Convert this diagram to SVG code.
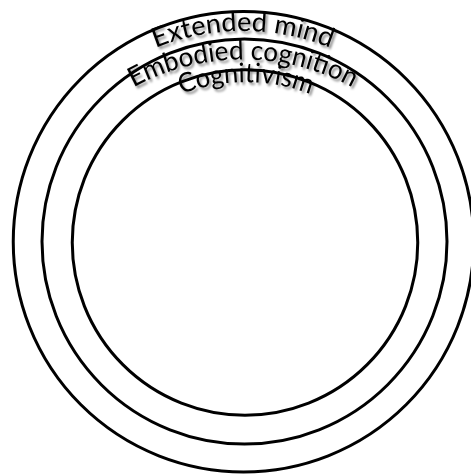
<svg xmlns="http://www.w3.org/2000/svg" xmlns:xlink="http://www.w3.org/1999/xlink" width="471" height="475" viewBox="0 0 471 475">
<style>
.ring{fill:none;stroke:#000;stroke-width:3}
.lbl{font-family:Lato,"Open Sans","Liberation Sans",sans-serif;font-size:27px;fill:#000;filter:url(#sh)}
</style>
<defs>
<filter id="sh" x="-20%" y="-50%" width="140%" height="200%">
<feDropShadow dx="2" dy="2.5" stdDeviation="1.3" flood-color="#000" flood-opacity="0.45"/>
</filter>
<path id="p1" d="M8,266 A235,235 0 0 1 478,266"/>
<path id="p2" d="M15,287.5 A228,228 0 0 1 471,287.5"/>
<path id="p3" d="M68,260 A178,178 0 0 1 424,260"/>
</defs>
<rect width="471" height="475" fill="#fff"/>
<g id="extended-mind">
<circle class="ring" cx="243.5" cy="241.75" r="230.25"/>
<text class="lbl"><textPath xlink:href="#p1" href="#p1" startOffset="50%" text-anchor="middle" textLength="179" lengthAdjust="spacingAndGlyphs">Extended mind</textPath></text>
</g>
<g id="embodied-cognition">
<circle class="ring" cx="244.5" cy="241.5" r="202.5"/>
<text class="lbl"><textPath xlink:href="#p2" href="#p2" startOffset="50%" text-anchor="middle" textLength="228" lengthAdjust="spacingAndGlyphs">Embodied cognition</textPath></text>
</g>
<g id="cognitivism">
<circle class="ring" cx="245" cy="242.5" r="172.75"/>
<text class="lbl"><textPath xlink:href="#p3" href="#p3" startOffset="50%" text-anchor="middle" textLength="132" lengthAdjust="spacingAndGlyphs">Cognitivism</textPath></text>
</g>
</svg>
